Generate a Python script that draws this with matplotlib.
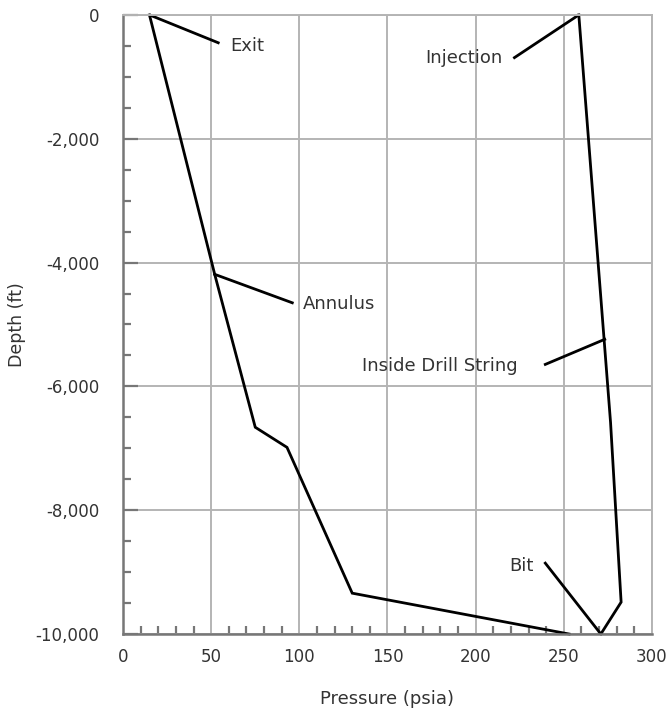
import matplotlib
matplotlib.use("Agg")
import matplotlib.pyplot as plt
from matplotlib.ticker import MultipleLocator, FuncFormatter

# pressure profile along the annulus (bit -> exit) and inside the drill string
annulus_p = [15, 52, 75, 93, 130, 253]
annulus_d = [0, -4190, -6660, -6985, -9340, -10000]

string_p = [258.5, 276.5, 282.5, 271]
string_d = [0, -6580, -9485, -10000]

# label text, label anchor (p, d), leader line end on the label side, leader start on curve
labels = ["Exit", "Injection", "Annulus", "Inside Drill String", "Bit"]
label_xy = [(61, -500), (215, -700), (102, -4670), (224, -5670), (233, -8900)]
leader_from = [(54, -450), (222, -690), (96, -4650), (239.5, -5645), (239.5, -8855)]
leader_to = [(15, 0), (258.5, 0), (52, -4190), (273.2, -5240), (271, -10000)]
label_ha = ["left", "right", "left", "right", "right"]

fig = plt.figure(figsize=(6.7, 7.1), dpi=100)
ax = fig.add_axes([0.1836, 0.107, 0.7895, 0.872])

ax.set_xlim(0, 300)
ax.set_ylim(-10000, 0)
ax.xaxis.set_major_locator(MultipleLocator(50))
ax.xaxis.set_minor_locator(MultipleLocator(10))
ax.yaxis.set_major_locator(MultipleLocator(2000))
ax.yaxis.set_minor_locator(MultipleLocator(500))
ax.yaxis.set_major_formatter(FuncFormatter(lambda v, p: f"{int(v):,}"))

ax.grid(True, which="major", color="#b4b4b4", linewidth=1.4)
ax.set_axisbelow(True)

for side in ["left", "bottom"]:
    ax.spines[side].set_color("#777777")
    ax.spines[side].set_linewidth(1.8)
for side in ["top", "right"]:
    ax.spines[side].set_color("#b4b4b4")
    ax.spines[side].set_linewidth(1.4)

ax.tick_params(which="both", direction="in", colors="#777777", labelcolor="#333333",
               labelsize=12)
ax.tick_params(axis="y", which="major", length=11, width=1.6, pad=17)
ax.tick_params(axis="y", which="minor", length=6, width=1.6)
ax.tick_params(axis="x", which="major", length=0, pad=10)
ax.tick_params(axis="x", which="minor", length=6, width=1.6)

ax.plot(annulus_p, annulus_d, color="black", linewidth=2.0, solid_joinstyle="miter", clip_on=False)
ax.plot(string_p, string_d, color="black", linewidth=2.0, solid_joinstyle="miter", clip_on=False)

for txt, xy, a, b, ha in zip(labels, label_xy, leader_from, leader_to, label_ha):
    ax.plot([a[0], b[0]], [a[1], b[1]], color="black", linewidth=2.0)
    ax.text(xy[0], xy[1], txt, ha=ha, va="center", fontsize=13, color="#333333")

ax.set_xlabel("Pressure (psia)", fontsize=13, color="#333333", labelpad=17)
ax.set_ylabel("Depth (ft)", fontsize=12.5, color="#333333")
ax.yaxis.set_label_coords(-0.183, 0.5)

fig.savefig("out.png", dpi=100)
